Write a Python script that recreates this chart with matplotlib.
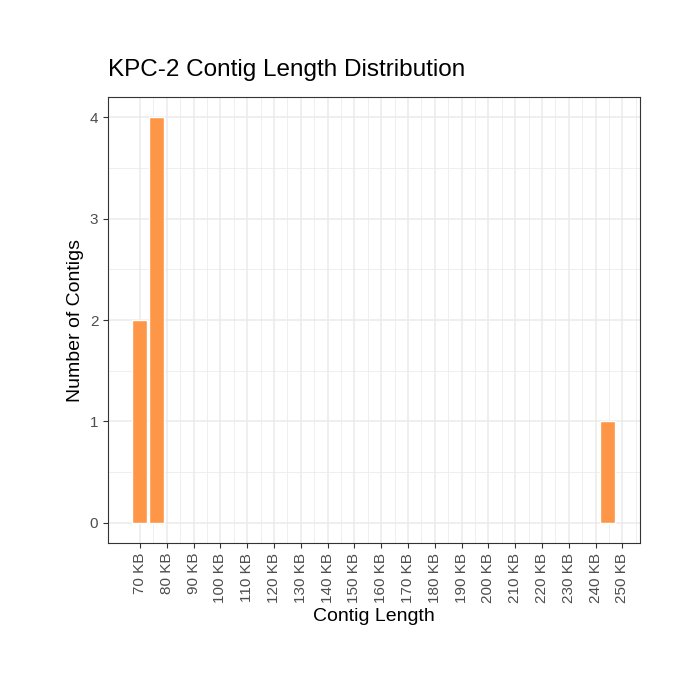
import matplotlib
matplotlib.use("Agg")
import matplotlib.pyplot as plt
import numpy as np

plt.rcParams['font.family'] = ['Liberation Sans', 'DejaVu Sans']

centers = [70.0, 76.0, 244.5]
counts = [2, 4, 1]
ticks = list(range(70, 251, 10))
tick_labels = [f"{t} KB" for t in ticks]

fig = plt.figure(figsize=(7, 7), dpi=100)
ax = fig.add_axes([108/700, 1-543/700, 532/700, 446/700])
ax.bar(centers, counts, width=5.6, color="#FD9647", edgecolor="white", linewidth=1, zorder=3)
ax.set_xlim(58.06, 256.6)
ax.set_ylim(-0.2, 4.2)
ax.set_xticks(ticks)
ax.set_xticklabels(tick_labels, rotation=90)
ax.set_xticks(np.arange(75, 256, 10), minor=True)
ax.set_yticks([0, 1, 2, 3, 4])
ax.set_yticks([0.5, 1.5, 2.5, 3.5], minor=True)
ax.grid(which="major", color="#EBEBEB", linewidth=1.1, zorder=0)
ax.grid(which="minor", color="#EBEBEB", linewidth=0.55, zorder=0)
ax.tick_params(which="minor", length=0)
ax.tick_params(which="major", length=3.5, color="#333333", labelcolor="#4D4D4D", labelsize=11)
for s in ax.spines.values():
    s.set_color("#333333"); s.set_linewidth(0.8)
ax.set_xlabel("Contig Length", fontsize=14)
ax.set_ylabel("Number of Contigs", fontsize=14)
fig.text(108/700, 1-70/700, "KPC-2 Contig Length Distribution", fontsize=17.5, va="center", ha="left")
fig.savefig("out.png")
